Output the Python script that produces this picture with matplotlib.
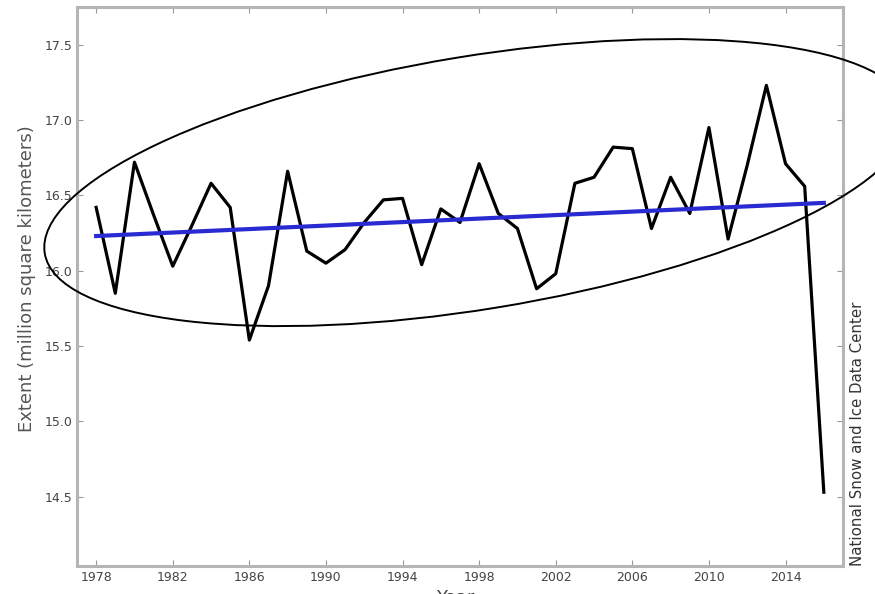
import numpy as np
import matplotlib
matplotlib.use('Agg')
import matplotlib.pyplot as plt
from matplotlib.patches import Ellipse
from matplotlib.transforms import IdentityTransform

#%% data
years = list(range(1978, 2017))
extent = [16.42, 15.85, 16.72, 16.37, 16.03, 16.30, 16.58, 16.42, 15.54, 15.90,
          16.66, 16.13, 16.05, 16.14, 16.32, 16.47, 16.48, 16.04, 16.41, 16.32,
          16.71, 16.38, 16.28, 15.88, 15.98, 16.58, 16.62, 16.82, 16.81, 16.28,
          16.62, 16.38, 16.95, 16.21, 16.70, 17.23, 16.71, 16.56, 14.53]

trend_years = [1978, 2016]
trend_vals = [16.23, 16.45]

xticks = [1978, 1982, 1986, 1990, 1994, 1998, 2002, 2006, 2010, 2014]
yticks = [14.5, 15.0, 15.5, 16.0, 16.5, 17.0, 17.5]

#%% plot
fig = plt.figure(figsize=(8.75, 5.94), dpi=100)
ax = fig.add_axes([0.088, 0.0471, 0.8754, 0.9411])

ax.plot(years, extent, color='k', linewidth=2.3)
ax.plot(trend_years, trend_vals, color='#2a2ad2', linewidth=3)

ax.set_xlim(1977, 2017)
ax.set_ylim(14.04, 17.75)
ax.set_xticks(xticks)
ax.set_yticks(yticks)
ax.set_yticklabels(['%.1f' % v for v in yticks])
ax.tick_params(direction='in', top=True, right=True, length=4, width=0.8,
               labelsize=9, labelcolor='#444444', color='#999999')
for sp in ax.spines.values():
    sp.set_color('#b5b5b5')
    sp.set_linewidth(2.2)

# y label
fig.text(27 / 875, 315.5 / 594, 'Extent (million square kilometers)', rotation=90,
         fontsize=13, color='#555555', ha='center', va='center')

# x label partly cut off at the bottom edge
fig.text(455 / 875, 0.008, 'Year', fontsize=13, color='#444444', ha='center', va='top')

# source note on the right
fig.text(857 / 875, (594 - 566) / 594, 'National Snow and Ice Data Center',
         rotation=90, fontsize=10.8, color='#333333', ha='center', va='bottom')

# hand-drawn style ellipse around the series (in pixel coords)
ell = Ellipse((477, 594 - 182.6), width=876, height=253, angle=9.3,
              transform=IdentityTransform(), fill=False, edgecolor='k',
              linewidth=1.4, clip_on=False)
fig.patches.append(ell)

fig.savefig('out.png', dpi=100)
